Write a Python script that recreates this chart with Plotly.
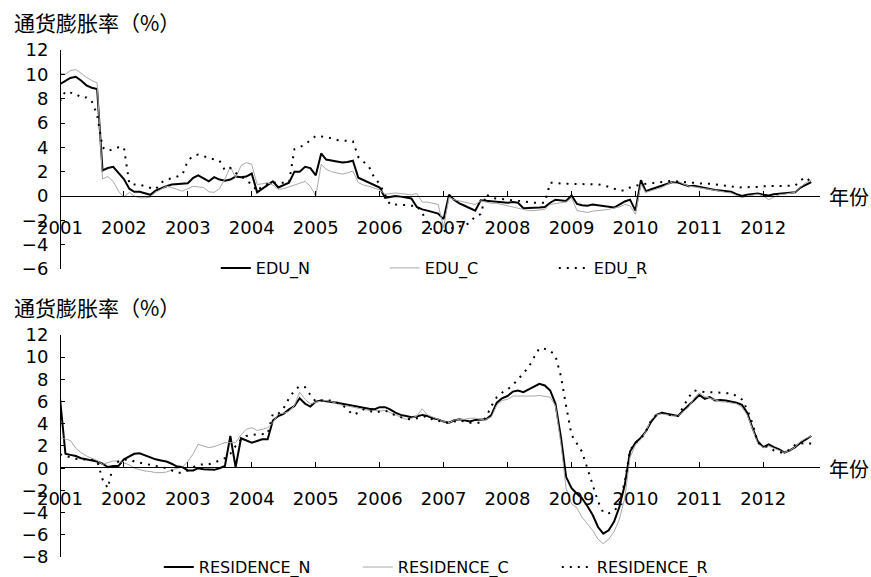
import pandas as pd
import plotly.graph_objects as go

months = pd.date_range("2001-01-01", periods=142, freq="MS")
year_ticks = [f"{y}-01-01" for y in range(2001, 2013)]
year_labels = [str(y) for y in range(2001, 2013)]

edu_n = [9.2, 9.5, 9.7, 9.8, 9.5, 9.1, 8.9, 8.8, 2.1, 2.3, 2.4, 1.9,
         1.4, 0.6, 0.35, 0.35, 0.25, 0.1, 0.45, 0.65, 0.8, 0.95, 1.0, 1.0,
         1.05, 1.5, 1.7, 1.45, 1.2, 1.55, 1.35, 1.25, 1.35, 1.6, 1.55, 1.6,
         1.85, 0.3, 0.6, 0.9, 1.2, 0.7, 0.9, 1.1, 2.0, 2.0, 2.4, 2.3,
         1.7, 3.5, 3.0, 2.9, 2.8, 2.75, 2.8, 2.9, 1.5, 1.3, 1.15, 0.9,
         0.7, -0.15, -0.05, 0.0, -0.05, -0.1, -0.2, -0.9, -1.1, -1.2, -1.35, -1.45,
         -1.9, 0.1, -0.3, -0.6, -0.8, -1.0, -1.2, -0.35, -0.4, -0.45, -0.5, -0.55,
         -0.55, -0.5, -0.55, -1.0, -1.0, -1.0, -0.95, -0.9, -0.55, -0.3, -0.35, -0.4,
         0.05, -0.65, -0.75, -0.8, -0.7, -0.75, -0.8, -0.85, -0.95, -0.7, -0.45, -0.3,
         -1.2, 1.3, 0.4, 0.55, 0.7, 0.85, 1.0, 1.15, 1.1, 0.95, 0.8, 0.85,
         0.75, 0.65, 0.6, 0.5, 0.45, 0.4, 0.35, 0.15, 0.0, 0.1, 0.15, 0.2,
         0.1, 0.05, 0.15, 0.2, 0.2, 0.25, 0.3, 0.7, 0.9, 1.15]

edu_c = [10.1, 10.0, 10.3, 10.4, 10.1, 9.75, 9.5, 9.3, 1.4, 1.6, 1.2, 0.4,
         -0.1, 0.3, 0.0, -0.15, -0.15, -0.1, 0.3, 0.55, 0.8, 0.7, 0.55, 0.4,
         0.6, 0.8, 0.75, 0.7, 0.35, 0.3, 0.6, 1.4, 2.4, 1.5, 2.5, 2.75,
         2.6, 0.95, 1.0, 1.1, 0.9, 0.55, 0.6, 0.75, 0.9, 1.0, 1.2, 0.8,
         0.0, 2.6, 2.2, 2.0, 1.9, 1.8, 1.9, 2.05, 1.1, 0.9, 0.8, 0.65,
         0.5, 0.15, 0.2, 0.25, 0.2, 0.15, 0.1, 0.2, -0.5, -0.5, -0.6, -0.7,
         -2.6, -0.1, -0.3, -0.4, -0.5, -0.6, -0.7, -0.4, -0.5, -0.6, -0.6, -0.7,
         -0.8, -0.9, -1.0, -1.1, -1.2, -1.2, -1.15, -1.1, -0.7, -0.6, -0.55, -0.5,
         -0.15, -1.2, -1.3, -1.35, -1.25, -1.2, -1.2, -1.1, -1.0, -0.9, -0.7, -0.8,
         -1.5, 0.95, 0.3, 0.45, 0.6, 0.7, 0.95, 1.15, 1.2, 1.0, 0.8, 0.75,
         0.65, 0.6, 0.55, 0.45, 0.4, 0.3, 0.25, 0.05, -0.15, 0.0, 0.1, 0.15,
         0.0, -0.3, -0.1, 0.1, 0.15, 0.2, 0.3, 0.75, 1.1, 1.3]

edu_r = [7.8, 8.6, 8.5, 8.4, 8.1, 8.1, 7.8, 6.7, 4.0, 3.7, 3.85, 4.0,
         4.0, 1.0, 0.95, 0.95, 0.8, 0.7, 0.55, 1.1, 1.35, 1.45, 1.6, 1.75,
         2.9, 3.3, 3.4, 3.3, 3.15, 3.0, 2.9, 2.1, 2.3, 1.9, 1.65, 1.25,
         1.0, 0.4, 0.8, 1.0, 1.1, 1.1, 1.1, 1.1, 3.85, 4.0, 4.25, 4.6,
         4.95, 4.9, 4.85, 4.75, 4.6, 4.55, 4.55, 4.5, 3.2, 2.8, 2.4, 1.5,
         1.0, 0.1, -0.7, -0.7, -0.7, -0.75, -0.8, -0.8, -1.4, -2.2, -3.0, -3.0,
         -2.9, -2.7, -2.6, -2.5, -2.4, -2.2, -1.65, -1.5, 0.15, -0.15, -0.2, -0.25,
         -0.3, -0.35, -0.4, -0.5, -0.55, -0.55, -0.55, -0.55, 1.1, 1.05, 1.0, 1.0,
         1.0, 1.0, 1.0, 1.0, 0.95, 0.95, 0.9, 0.75, 0.6, 0.45, 0.45, 0.7,
         0.85, 0.95, 1.0, 1.05, 1.1, 1.15, 1.2, 1.25, 1.2, 1.15, 1.1, 1.05,
         1.0, 1.0, 1.0, 0.95, 0.95, 0.9, 0.8, 0.7, 0.7, 0.7, 0.75, 0.75,
         0.8, 0.8, 0.8, 0.8, 0.8, 0.8, 0.85, 1.3, 1.55, 1.1]

res_n = [6.3, 1.3, 1.2, 1.1, 0.9, 0.8, 0.7, 0.6, 0.4, 0.1, 0.2, 0.2,
         0.8, 1.1, 1.3, 1.35, 1.15, 0.95, 0.8, 0.7, 0.6, 0.4, 0.15, 0.1,
         -0.2, -0.2, 0.0, -0.1, -0.15, -0.15, 0.0, 0.2, 2.9, 0.1, 2.7, 2.5,
         2.3, 2.45, 2.6, 2.6, 4.3, 4.7, 4.9, 5.3, 5.6, 6.3, 5.8, 5.55,
         6.0, 6.1, 6.05, 6.0, 5.9, 5.8, 5.7, 5.6, 5.5, 5.4, 5.35, 5.3,
         5.5, 5.5, 5.3, 5.0, 4.8, 4.7, 4.6, 4.65, 4.8, 4.7, 4.5, 4.4,
         4.2, 4.1, 4.3, 4.4, 4.3, 4.2, 4.35, 4.4, 4.4, 4.8, 5.9, 6.3,
         6.5, 6.9, 7.0, 6.85, 7.1, 7.4, 7.6, 7.45, 7.0, 5.8, 2.8, -0.8,
         -1.8, -2.3, -2.7, -3.4, -4.2, -5.3, -5.9, -5.6, -4.8, -3.5, -1.5, 1.5,
         2.3, 2.75, 3.3, 4.2, 4.8, 5.0, 4.9, 4.75, 4.7, 5.2, 5.65, 6.1,
         6.6, 6.25, 6.4, 6.1, 6.15, 6.1, 6.0, 5.9, 5.7, 5.0, 3.6, 2.4,
         1.9, 2.15, 1.9, 1.7, 1.4, 1.6, 1.9, 2.3, 2.6, 2.9]

res_c = [2.75, 2.6, 2.5, 1.8, 1.4, 1.1, 0.9, 0.7, 0.35, 0.5, 0.65, 0.65,
         0.5, 0.3, 0.0, -0.15, -0.25, -0.3, -0.4, -0.4, -0.35, -0.15, 0.0, 0.1,
         0.6, 1.3, 2.15, 2.0, 1.85, 1.95, 2.1, 2.3, 2.3, 2.3, 3.0, 3.5,
         3.65, 3.4, 3.5, 3.65, 4.1, 4.9, 4.95, 5.1, 5.65, 6.85, 6.2, 5.8,
         5.95, 6.0, 6.1, 6.0, 5.8, 5.65, 5.6, 5.5, 5.4, 5.3, 5.2, 5.2,
         5.15, 5.2, 5.0, 4.8, 4.6, 4.4, 4.5, 4.7, 5.35, 4.8, 4.6, 4.4,
         4.2, 4.1, 4.3, 4.4, 4.4, 4.5, 4.5, 4.4, 4.4, 4.6, 5.7, 6.1,
         6.2, 6.5, 6.5, 6.45, 6.45, 6.5, 6.55, 6.5, 6.4, 5.6, 2.2, -1.8,
         -3.2, -3.6, -4.4, -5.0, -5.6, -6.4, -6.8, -6.4, -5.7, -4.6, -2.7, 1.0,
         2.1, 2.6, 3.3, 4.4, 4.8, 4.9, 4.8, 4.7, 4.7, 5.1, 5.5, 6.3,
         6.8, 6.45, 6.3, 6.1, 6.0, 5.95, 5.85, 5.8, 5.5, 4.8, 3.5, 2.2,
         1.85, 2.0, 1.8, 1.6, 1.4, 1.6, 1.9, 2.4, 2.7, 2.9]

res_r = [1.25, 1.1, 1.0, 0.85, 0.8, 0.8, 0.75, 0.65, -1.0, -1.8, 0.3, 0.6,
         0.75, 0.8, 0.6, 0.5, 0.4, 0.3, 0.2, 0.1, 0.0, -0.2, -0.4, -0.4,
         -0.2, 0.1, 0.3, 0.35, 0.35, 0.5, 0.7, 0.9, 1.3, 2.0, 2.6, 2.9,
         3.0, 3.05, 3.05, 3.1, 4.9, 4.9, 5.4, 6.3, 7.0, 7.4, 7.3, 6.6,
         6.0, 6.1, 6.1, 6.1, 5.9, 5.7, 5.3, 4.8, 5.0, 5.3, 5.2, 5.0,
         5.1, 5.2, 5.0, 4.75, 4.6, 4.45, 4.4, 4.5, 4.6, 4.7, 4.35, 4.3,
         4.1, 4.1, 4.2, 4.3, 4.2, 4.1, 4.1, 4.1, 4.6, 5.6, 6.4, 6.8,
         7.1, 7.5, 8.0, 8.6, 9.1, 10.0, 10.8, 10.75, 10.6, 10.1, 8.3, 5.6,
         3.0, 2.2, 1.5, 0.0, -1.5, -3.0, -4.0, -4.05, -3.9, -3.2, -1.2, 1.6,
         2.3, 2.65, 3.3, 4.3, 4.8, 5.0, 4.9, 4.7, 4.7, 5.5, 6.4, 7.0,
         6.9, 6.85, 6.85, 6.85, 6.8, 6.75, 6.75, 6.5, 6.2, 5.3, 4.0, 2.3,
         2.0, 1.9, 1.6, 1.45, 1.4, 1.7, 2.1, 2.2, 2.3, 2.2]

top_yticks = list(range(-6, 13, 2))
bot_yticks = list(range(-8, 13, 2))

NUM_FONT = "DejaVu Sans, sans-serif"
CJK_FONT = "Noto Sans CJK SC, sans-serif"

fig = go.Figure()

styles = {
    "N": dict(color="black", width=2),
    "C": dict(color="#a8a8a8", width=1),
    "R": dict(color="black", width=2, dash="2px,6px"),
}

for name, vals, st in [("EDU_N", edu_n, "N"), ("EDU_C", edu_c, "C"), ("EDU_R", edu_r, "R")]:
    fig.add_trace(go.Scatter(x=months, y=vals, name=name, mode="lines",
                             line=styles[st], xaxis="x", yaxis="y", legend="legend"))
for name, vals, st in [("RESIDENCE_N", res_n, "N"), ("RESIDENCE_C", res_c, "C"), ("RESIDENCE_R", res_r, "R")]:
    fig.add_trace(go.Scatter(x=months, y=vals, name=name, mode="lines",
                             line=styles[st], xaxis="x2", yaxis="y2", legend="legend2"))

x_range = ["2001-01-01", "2012-11-20"]
xcommon = dict(range=x_range, tickmode="array", tickvals=year_ticks, ticktext=year_labels,
               showline=True, linecolor="black", linewidth=1, ticks="inside", ticklen=5,
               tickcolor="black", showgrid=False, zeroline=False, anchor="free",
               tickfont=dict(family=NUM_FONT, size=18, color="black"),
               ticklabelstandoff=15, domain=[0, 1])
ycommon = dict(showline=True, linecolor="black", linewidth=1, ticks="inside", ticklen=4,
               tickcolor="black", showgrid=False, zeroline=False, anchor="free", position=0,
               ticklabelstandoff=8,
               tickfont=dict(family=NUM_FONT, size=18, color="black"))

fig.update_layout(
    width=871, height=577,
    margin=dict(l=60, r=51, t=50, b=20, autoexpand=False),
    paper_bgcolor="white", plot_bgcolor="white",
    xaxis=dict(**xcommon, position=0.712),
    xaxis2=dict(**xcommon, position=0.1775),
    yaxis=dict(**ycommon, range=[-6, 12], tickvals=top_yticks, domain=[0.568, 1]),
    yaxis2=dict(**ycommon, range=[-8, 12], tickvals=bot_yticks, domain=[0, 0.4379]),
    legend=dict(orientation="h", x=0.205, y=0.57, xanchor="left", yanchor="middle",
                font=dict(family=NUM_FONT, size=16, color="black"),
                entrywidth=124, entrywidthmode="pixels", bgcolor="rgba(0,0,0,0)"),
    legend2=dict(orientation="h", x=0.13, y=-0.02, xanchor="left", yanchor="middle",
                 font=dict(family=NUM_FONT, size=16, color="black"),
                 entrywidth=154, entrywidthmode="pixels", bgcolor="rgba(0,0,0,0)"),
    showlegend=True,
)

ann_font = dict(family=CJK_FONT, size=21, color="black")
fig.add_annotation(text="通货膨胀率（%）", xref="paper", yref="paper", x=-0.063, y=1.055,
                   xanchor="left", yanchor="middle", showarrow=False, font=ann_font)
fig.add_annotation(text="通货膨胀率（%）", xref="paper", yref="paper", x=-0.063, y=0.493,
                   xanchor="left", yanchor="middle", showarrow=False, font=ann_font)
fig.add_annotation(text="年份", xref="paper", yref="y", x=1.009, y=0,
                   xanchor="left", yanchor="middle", showarrow=False,
                   font=dict(family=CJK_FONT, size=20, color="black"))
fig.add_annotation(text="年份", xref="paper", yref="y2", x=1.009, y=0,
                   xanchor="left", yanchor="middle", showarrow=False,
                   font=dict(family=CJK_FONT, size=20, color="black"))

fig.write_html("out.html", config={"displayModeBar": False},
               post_script="document.body.style.margin='0';document.body.style.overflow='hidden';")
